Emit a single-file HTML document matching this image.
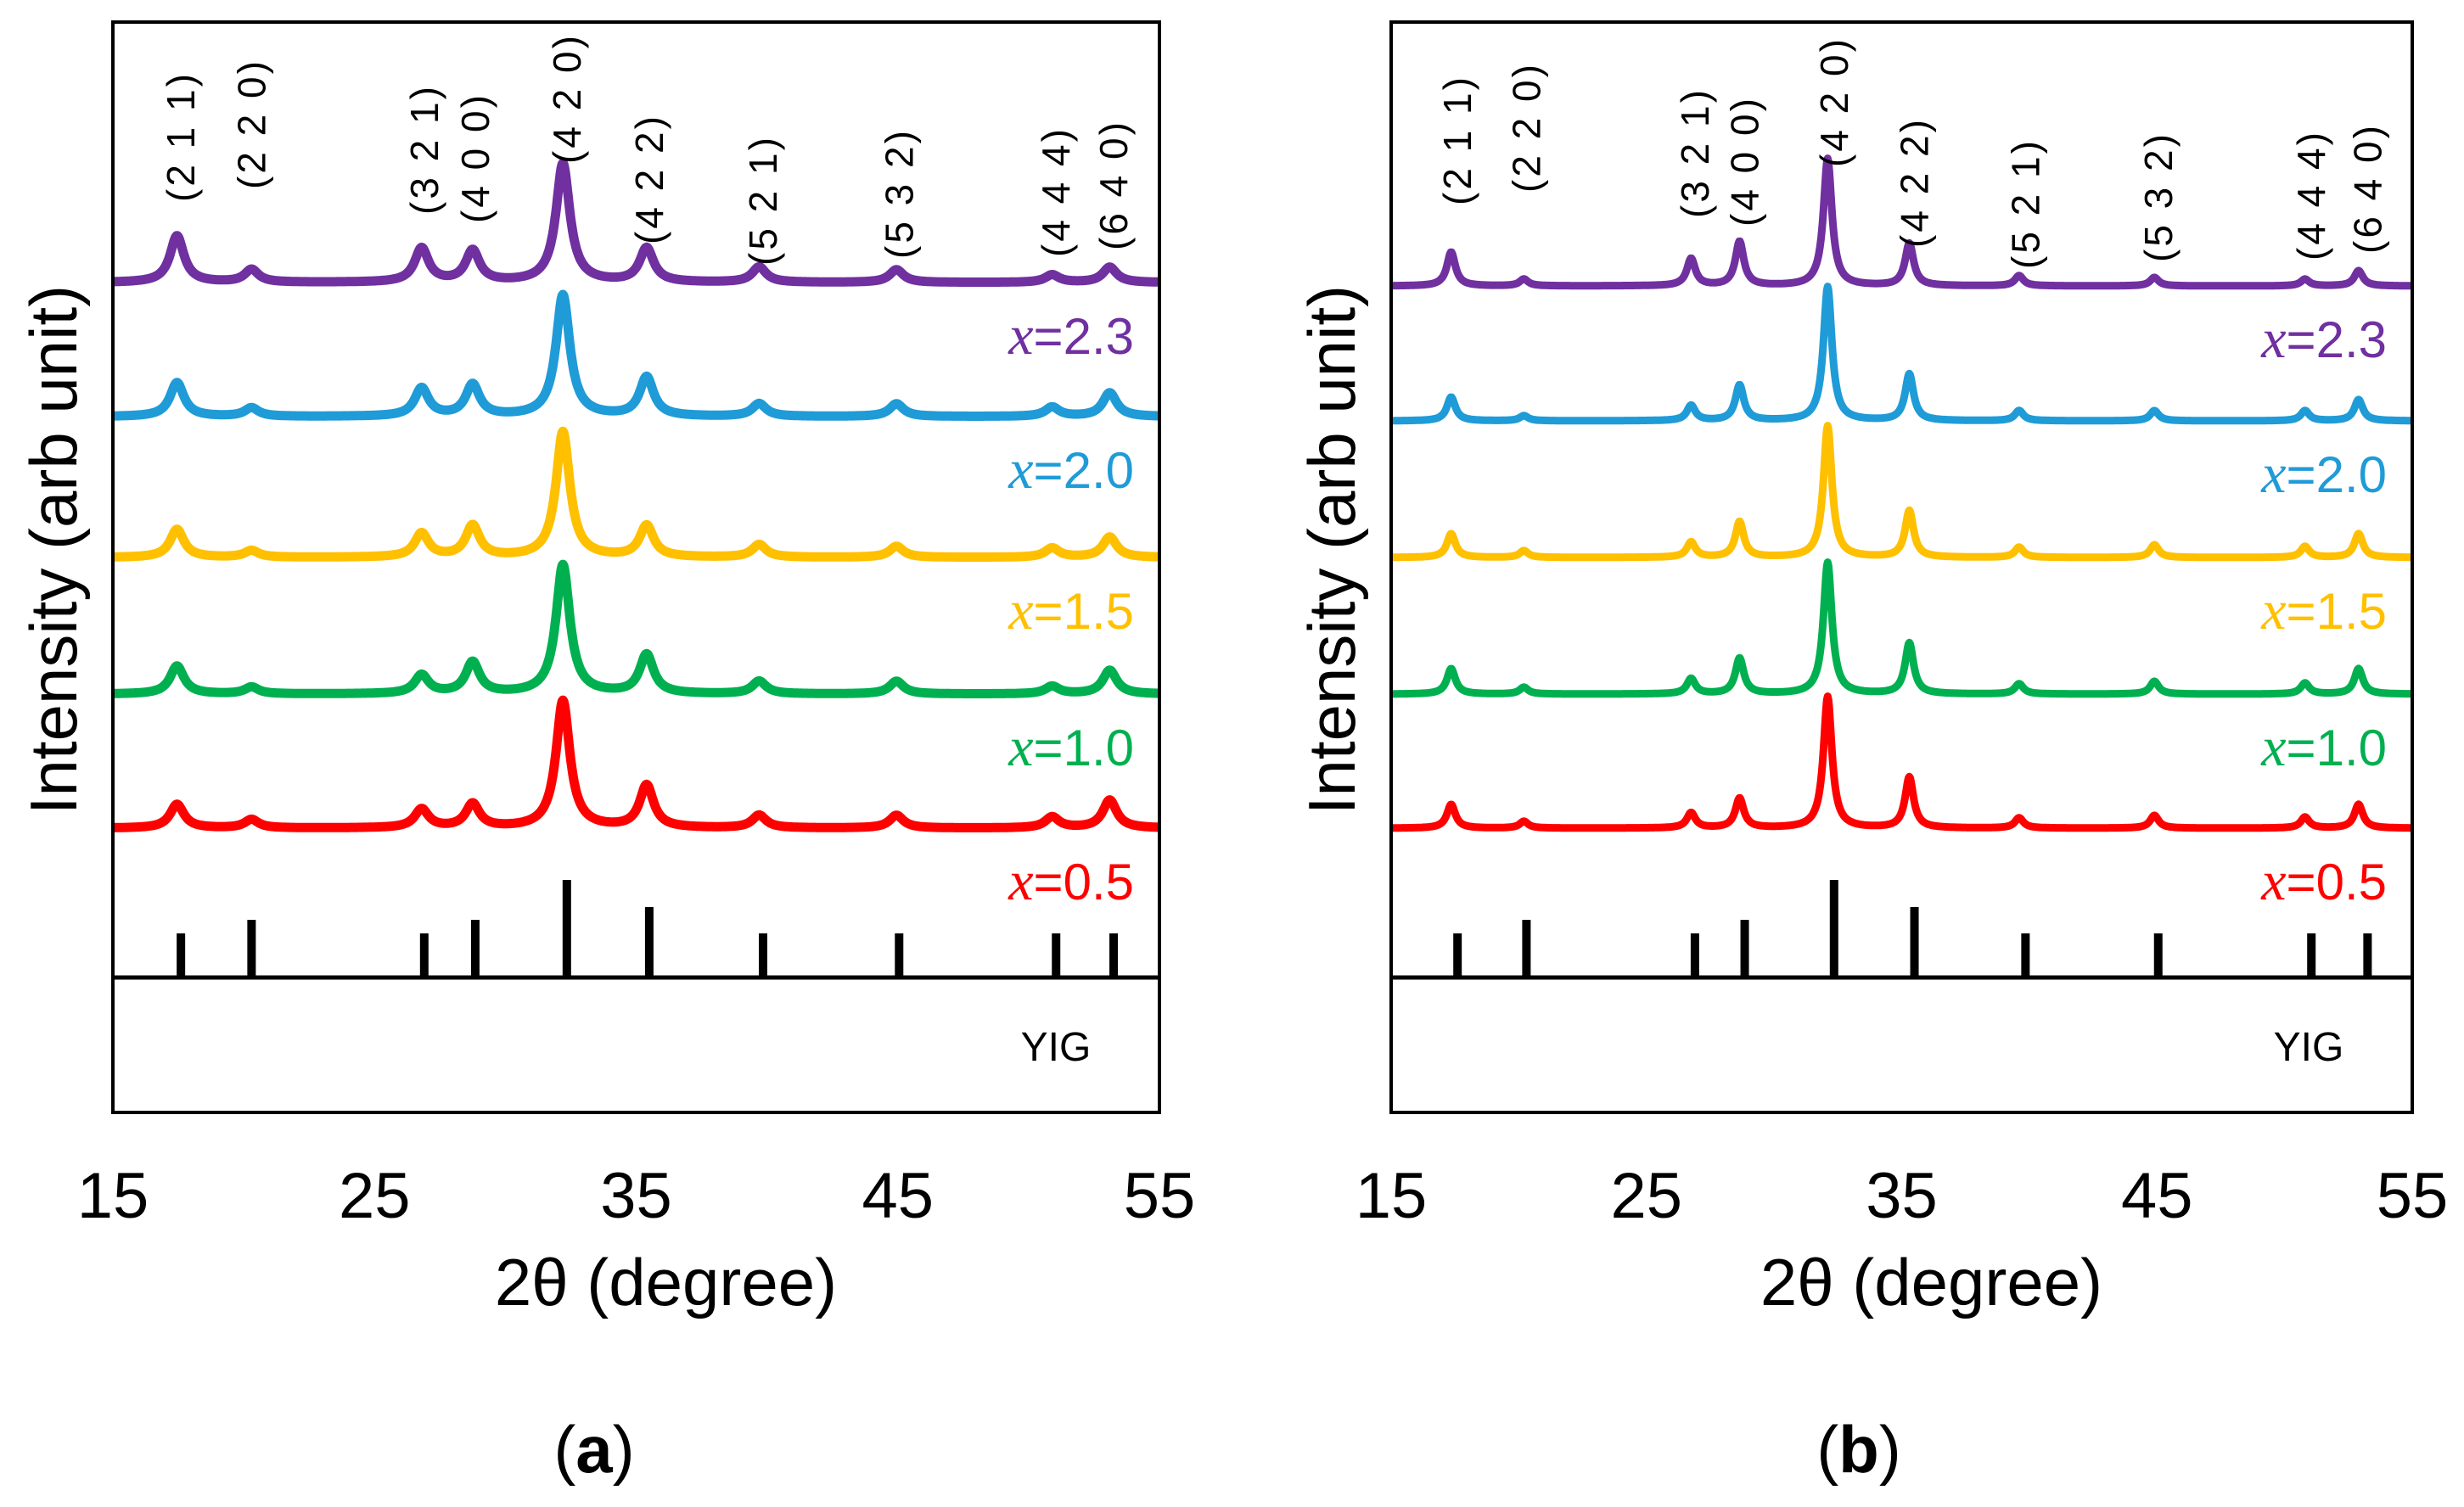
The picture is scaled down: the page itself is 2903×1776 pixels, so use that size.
<!DOCTYPE html>
<html><head><meta charset="utf-8">
<style>
html,body{margin:0;padding:0;background:#fff;}
svg{display:block;}
text{font-family:"Liberation Sans","DejaVu Sans",sans-serif;}
</style></head>
<body>
<svg id="fig" width="2903" height="1776" viewBox="0 0 2903 1776" xmlns="http://www.w3.org/2000/svg"></svg>
<script>
// ---- data ----
const xTicks = [15, 25, 35, 45, 55];
const hklLabels = ["(2 1 1)","(2 2 0)","(3 2 1)","(4 0 0)","(4 2 0)","(4 2 2)","(5 2 1)","(5 3 2)","(4 4 4)","(6 4 0)"];
const refPos = [17.6, 20.3, 26.9, 28.85, 32.35, 35.5, 39.85, 45.05, 51.05, 53.25];
const refHeight = [52, 68, 52, 68, 115, 83, 52, 52, 52, 52];
const labelLift = [195, 210, 180, 170, 240, 145, 120, 128, 130, 138];
const seriesNames = ["x=0.5","x=1.0","x=1.5","x=2.0","x=2.3"];
const seriesDisplay = ["=0.5","=1.0","=1.5","=2.0","=2.3"];
// panel a
const peakPosA = [17.45, 20.3, 26.8, 28.75, 32.2, 35.4, 39.7, 44.95, 50.9, 53.1];
const baseA = [976, 818, 657, 491, 333];
const peaksA = [
  [28, 10, 22, 28, 150, 50, 15, 15, 13, 33],
  [33, 8, 22, 37, 152, 46, 15, 15, 9, 28],
  [33, 8, 28, 37, 148, 37, 15, 13, 11, 24],
  [40, 10, 33, 37, 143, 46, 15, 15, 11, 28],
  [55, 15, 40, 37, 140, 40, 18, 15, 9, 18]
];
// panel b
const peakPosB = [17.35, 20.2, 26.75, 28.65, 32.1, 35.3, 39.6, 44.9, 50.8, 52.9];
const baseB = [976, 818, 657, 496, 337];
const peaksB = [
  [28, 8, 18, 35, 155, 60, 12, 15, 13, 28],
  [30, 8, 18, 42, 155, 60, 12, 15, 13, 30],
  [28, 8, 18, 42, 155, 55, 12, 15, 13, 28],
  [28, 6, 18, 42, 158, 55, 12, 12, 12, 25],
  [40, 8, 32, 52, 150, 50, 12, 10, 8, 18]
];
const colors = ["#FF0000","#00B050","#FFC000","#1F9BD7","#7030A0"];

const NS = "http://www.w3.org/2000/svg";
const svg = document.getElementById("fig");
function mk(tag, attrs, parent){
  const e = document.createElementNS(NS, tag);
  for (const k in attrs) e.setAttribute(k, attrs[k]);
  (parent||svg).appendChild(e);
  return e;
}

function panel(id, L, R, T, B, sep, peakPos, base, peaks, width, strokeW, letter, letterX){
  const g = mk("g", {});
  
  
  const x = v => L + (v - 15) / 40 * (R - L);

  for (let s = 0; s < 5; s++) {
    let d = "";
    for (let i = 0; i <= 1200; i++) {
      const tt = 15 + 40 * i / 1200;
      let yv = 0;
      for (let p = 0; p < peakPos.length; p++) {
        const u = (tt - peakPos[p]) / width;
        yv += peaks[s][p] / (1 + u * u);
      }
      d += (i ? "L" : "M") + x(tt).toFixed(1) + " " + (base[s] - yv).toFixed(1);
    }
    const path = mk("path", {d: d, fill: "none", stroke: colors[s], "stroke-width": strokeW, "stroke-linejoin": "round"}, g);
    
    
    const lab = mk("text", {x: R - 30, y: base[s] + 84, "text-anchor": "end", "font-size": 60, fill: colors[s]}, g);
    
    
    const xi = mk("tspan", {"font-family": "Liberation Serif, serif", "font-style": "italic", "font-size": 66}, lab);
    xi.textContent = "x";
    const rest = mk("tspan", {}, lab);
    rest.textContent = seriesDisplay[s];
  }

  for (let p = 0; p < refPos.length; p++) {
    const bar = mk("rect", {x: x(refPos[p]) - 5, y: sep - refHeight[p], width: 10, height: refHeight[p], fill: "#000"}, g);
    
    
    const tx = x(refPos[p]) + 16;
    const ty = base[4] - labelLift[p] + 100;
    const hl = mk("text", {x: 0, y: 0, "font-size": 46, "letter-spacing": 3, "text-anchor": "start", fill: "#000",
      transform: "translate(" + tx + "," + ty + ") rotate(-90)"}, g);
    hl.textContent = hklLabels[p];
    
    
  }

  const fr = mk("rect", {x: L, y: T, width: R - L, height: B - T, fill: "none", stroke: "#000", "stroke-width": 4}, g);
  
  
  const sl = mk("line", {x1: L, x2: R, y1: sep, y2: sep, stroke: "#000", "stroke-width": 5}, g);
  
  
  const yig = mk("text", {x: R - 122, y: 1250, "text-anchor": "middle", "font-size": 48, fill: "#000"}, g);
  yig.textContent = "YIG";
  
  

  for (const tv of xTicks) {
    const t = mk("text", {x: x(tv), y: 1435, "text-anchor": "middle", "font-size": 76, fill: "#000"}, g);
    t.textContent = tv;
    
    
  }
  const xt = mk("text", {x: (L + R) / 2 + 35, y: 1538, "text-anchor": "middle", "font-size": 78, fill: "#000"}, g);
  xt.textContent = "2θ (degree)";
  
  
  const yt = mk("text", {x: 0, y: 0, "text-anchor": "middle", "font-size": 78, fill: "#000",
    transform: "translate(" + (L - 43) + "," + 648 + ") rotate(-90)"}, g);
  yt.textContent = "Intensity (arb unit)";
  
  
  const pl = mk("text", {x: letterX, y: 1735, "text-anchor": "middle", "font-size": 78, fill: "#000", "font-family": "Liberation Serif, serif"}, g);
  
  
  const a1 = mk("tspan", {}, pl); a1.textContent = "(";
  const a2 = mk("tspan", {"font-weight": "bold"}, pl); a2.textContent = letter;
  const a3 = mk("tspan", {}, pl); a3.textContent = ")";
}

panel("a", 133, 1366, 26, 1311, 1152, peakPosA, baseA, peaksA, 0.32, 11, "a", 700);
panel("b", 1639, 2842, 26, 1311, 1152, peakPosB, baseB, peaksB, 0.2, 9, "b", 2190);
</script>
</body></html>
